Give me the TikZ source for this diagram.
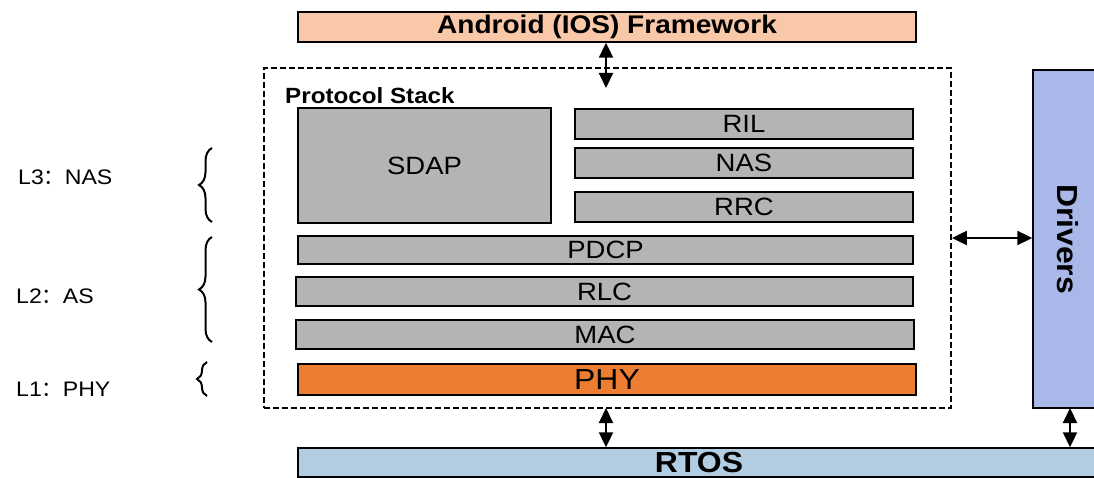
\documentclass[tikz,border=0pt]{standalone}
\usepackage{fontspec}
\setmainfont[FakeStretch=1.1]{Liberation Sans}
\newfontfamily\cjk{Noto Sans CJK SC}
\usetikzlibrary{arrows.meta,decorations.pathreplacing}
\definecolor{peach}{HTML}{F8C8A8}
\definecolor{gbox}{HTML}{B4B4B4}
\definecolor{phyc}{HTML}{ED7D31}
\definecolor{rtosc}{HTML}{B2CCE2}
\definecolor{drvc}{HTML}{A9B8E8}
\tikzset{
  layer/.style={draw=black, line width=1.4pt, fill=gbox, inner sep=0pt, font=\fontsize{25}{27}\selectfont},
  boldbox/.style={draw=black, line width=1.4pt, inner sep=0pt, font=\bfseries\fontsize{25.5}{28}\selectfont},
  dbl/.style={{Triangle[length=15pt,width=14pt]}-{Triangle[length=15pt,width=14pt]}, line width=2pt},
  lbl/.style={font=\fontsize{21}{23}\selectfont, anchor=west, inner sep=0pt},
  brc/.style={decorate, decoration={brace, amplitude=13pt}, line width=2pt}
}
\begin{document}
\begin{tikzpicture}[x=1pt,y=-1pt]
\useasboundingbox (0,0) rectangle (1094,478);
\clip (0,0) rectangle (1094,478);
% top framework
\node[boldbox, fill=peach, minimum width=618pt, minimum height=30pt] (android) at (607,27) {Android (IOS) Framework};
% protocol stack dashed container
\node[draw=black, dash pattern=on 6pt off 3pt, line width=1.8pt, minimum width=687pt, minimum height=340pt, inner sep=0pt] (stack) at (607.5,238) {};
\node[font=\bfseries\fontsize{22}{24}\selectfont, anchor=west, inner sep=0pt] (pstitle) at (285,96) {Protocol Stack};
% layers
\node[layer, minimum width=253pt, minimum height=115pt] (sdap) at (424.5,165.5) {SDAP};
\node[layer, minimum width=338pt, minimum height=30pt] (ril) at (744,124) {RIL};
\node[layer, minimum width=338pt, minimum height=30pt] (nas) at (744,163) {NAS};
\node[layer, minimum width=338pt, minimum height=30pt] (rrc) at (744,207) {RRC};
\node[layer, minimum width=615pt, minimum height=28pt] (pdcp) at (605.5,250) {PDCP};
\node[layer, minimum width=617pt, minimum height=29pt] (rlc) at (604.5,291.5) {RLC};
\node[layer, minimum width=618pt, minimum height=29pt] (mac) at (605,334.5) {MAC};
\node[layer, fill=phyc, minimum width=618pt, minimum height=31pt, font=\fontsize{29}{31}\selectfont] (phy) at (607,379.5) {PHY};
% RTOS and drivers
\node[boldbox, fill=rtosc, minimum width=802pt, minimum height=29pt, font=\bfseries\fontsize{29}{31}\selectfont] (rtos) at (699,462.5) {RTOS};
\node[boldbox, fill=drvc, minimum width=70pt, minimum height=338pt] (drivers) at (1068,239) {};
\node[font=\bfseries\fontsize{29}{31}\selectfont, rotate=-90, inner sep=0pt] (drvtext) at (drivers.center) {Drivers};
% connectors
\coordinate (a1) at (606,88);
\draw[dbl] (android.south -| a1) -- (a1);
\draw[dbl] (stack.east) -- (stack.east -| drivers.west);
\coordinate (a2) at (606,408);
\draw[dbl] (a2) -- (a2 |- rtos.north);
\coordinate (a3) at (1070,408);
\draw[dbl] (a3) -- (a3 |- rtos.north);
% braces
\coordinate (b3t) at (212,148); \coordinate (b3b) at (212,222);
\coordinate (b2t) at (212,237); \coordinate (b2b) at (212,342);
\coordinate (b1t) at (207,362); \coordinate (b1b) at (207,396);
\draw[brc] (b3b) -- (b3t);
\draw[brc] (b2b) -- (b2t);
\draw[brc, decoration={brace, amplitude=10pt}] (b1b) -- (b1t);
% labels
\node[lbl] (l3) at (18,177) {L3{\cjk ：}NAS};
\node[lbl] (l2) at (16,296) {L2{\cjk ：}AS};
\node[lbl] (l1) at (16,389) {L1{\cjk ：}PHY};
\end{tikzpicture}
\end{document}
